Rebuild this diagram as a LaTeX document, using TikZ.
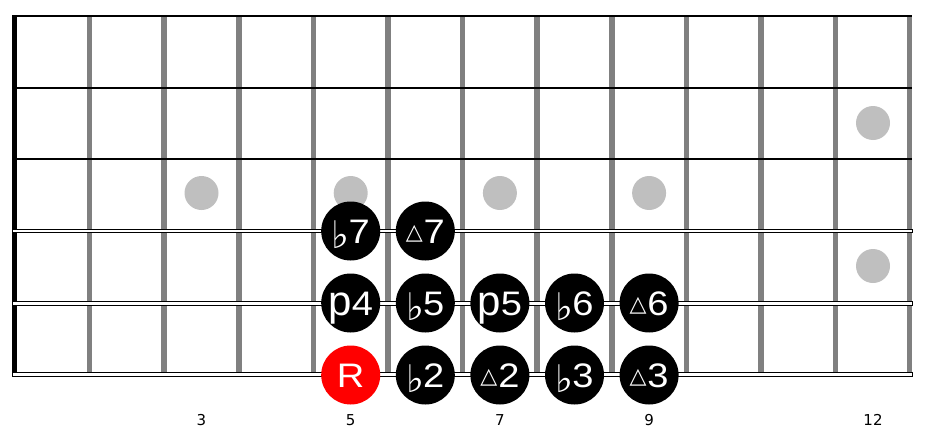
\documentclass[tikz,border=0pt]{standalone}
\usepackage{fontspec}
\setmainfont{Liberation Sans}
\newfontfamily\symfont{DejaVu Sans}
\usetikzlibrary{positioning}

\newcommand{\dg}[1]{\scalebox{1.12}[1]{#1}}
\newcommand{\fl}{\raisebox{-5pt}{\symfont\fontsize{38}{38}\selectfont ♭}\kern-1pt}
\newcommand{\mj}{\raisebox{4pt}{\symfont\bfseries\fontsize{22}{22}\selectfont △}\kern1pt}
\newcommand{\pp}{{\fontsize{42}{42}\selectfont p}}

\begin{document}
\begin{tikzpicture}[x=1pt, y=-1pt, node distance=74.6pt,
	fret/.style={gray, line width=5.5pt},
	dot/.style={fill=gray!50},
	note/.style={circle, fill=black, text=white, minimum size=59pt, inner sep=0pt,
		text height=24pt, text depth=0pt, font=\fontsize{34}{34}\selectfont},
	root/.style={note, fill=red},
	fretnum/.style={font=\symfont\fontsize{15}{15}\selectfont}]
	\useasboundingbox (0,0) rectangle (928,439);

	% frets
	\draw[fret] (89.6,16) -- (89.6,372);
	\draw[fret] (164.2,16) -- (164.2,372);
	\draw[fret] (238.8,16) -- (238.8,372);
	\draw[fret] (313.4,16) -- (313.4,372);
	\draw[fret] (388,16) -- (388,372);
	\draw[fret] (462.6,16) -- (462.6,372);
	\draw[fret] (537.2,16) -- (537.2,372);
	\draw[fret] (611.8,16) -- (611.8,372);
	\draw[fret] (686.4,16) -- (686.4,372);
	\draw[fret] (761,16) -- (761,372);
	\draw[fret] (835.6,16) -- (835.6,372);
	\draw[fret] (909.6,16) -- (909.6,372);
	\fill (12,16) rectangle (17,374);

	% strings
	\draw[line width=1.2pt] (12,16) -- (912,16);
	\draw[line width=1.2pt] (12,88) -- (912,88);
	\draw[line width=1.2pt] (12,159) -- (912,159);
	\draw[line width=0.9pt, fill=white] (12,229.8) rectangle (912,232.6);
	\draw[line width=0.9pt, fill=white] (12,301) rectangle (912,305);
	\draw[line width=0.9pt, fill=white] (12,372.2) rectangle (912,376.8);

	% inlays
	\fill[dot] (201.5,193) circle (17);
	\fill[dot] (350.7,193) circle (17);
	\fill[dot] (499.9,193) circle (17);
	\fill[dot] (649.1,193) circle (17);
	\fill[dot] (873,123) circle (17);
	\fill[dot] (873,266) circle (17);

	\node[root] (r)                  at (350.7,375) {\dg{R}};
	\node[note] (b2) [right of=r]   {\fl\dg{2}};
	\node[note] (m2) [right of=b2]  {\mj\dg{2}};
	\node[note] (b3) [right of=m2]  {\fl\dg{3}};
	\node[note] (m3) [right of=b3]  {\mj\dg{3}};
	\node[note] (p4) [above of=r, node distance=72pt]  {\pp\dg{4}};
	\node[note] (b5) [right of=p4]  {\fl\dg{5}};
	\node[note] (p5) [right of=b5]  {\pp\dg{5}};
	\node[note] (b6) [right of=p5]  {\fl\dg{6}};
	\node[note] (m6) [right of=b6]  {\mj\dg{6}};
	\node[note] (b7) [above of=p4, node distance=72pt]  {\fl\dg{7}};
	\node[note] (m7) [right of=b7]  {\mj\dg{7}};

	\node[fretnum] (f3)  at (201.5,420) {3};
	\node[fretnum] (f5)  at (350.7,420) {5};
	\node[fretnum] (f7)  at (499.9,420) {7};
	\node[fretnum] (f9)  at (649.1,420) {9};
	\node[fretnum] (f12) at (873,420)   {12};
\end{tikzpicture}
\end{document}
